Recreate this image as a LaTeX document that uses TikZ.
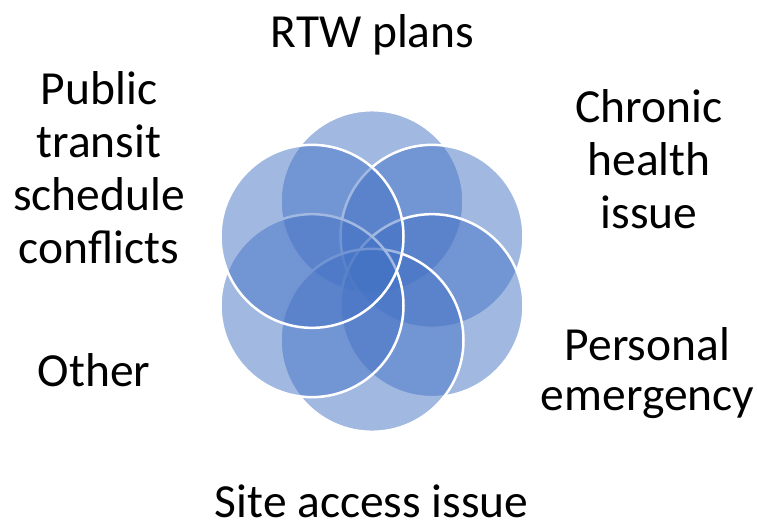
\documentclass[tikz,border=0pt]{standalone}
\usepackage{fontspec}
\setmainfont{Carlito}
\definecolor{petalblue}{RGB}{68,114,196}
\tikzstyle{petal}=[circle, fill=petalblue, fill opacity=0.5, draw=white,
line width=2.5pt, minimum size=183pt, inner sep=0pt]
\tikzstyle{reason}=[font=\fontsize{47.5}{53}\selectfont, align=center,
anchor=base, inner sep=0pt]

\begin{document}
\begin{tikzpicture}[x=1pt,y=-1pt]
\useasboundingbox (0,0) rectangle (758,523);

\node[petal](rtw)at (372,201.7){};
\node[petal](chronic)at (432,236.35){};
\node[petal](personal)at (432,305.65){};
\node[petal](site)at (372,340.3){};
\node[petal](other)at (312,305.65){};
\node[petal](transit)at (312,236.35){};

% base anchor sits on the last line
\node[reason](rtwtext)at (372.5,47){RTW plans};
\node[reason](chronictext)at (649,228){Chronic\\health\\issue};
\node[reason,font=\fontsize{47.5}{50}\selectfont](personaltext)at (647.5,410){Personal\\emergency};
\node[reason,text depth=0pt](sitetext)at (371.7,517){Site access issue};
\node[reason](othertext)at (94.2,386){Other};
\node[reason](transittext)at (99,263){Public\\transit\\schedule\\conflicts};
\end{tikzpicture}
\end{document}
